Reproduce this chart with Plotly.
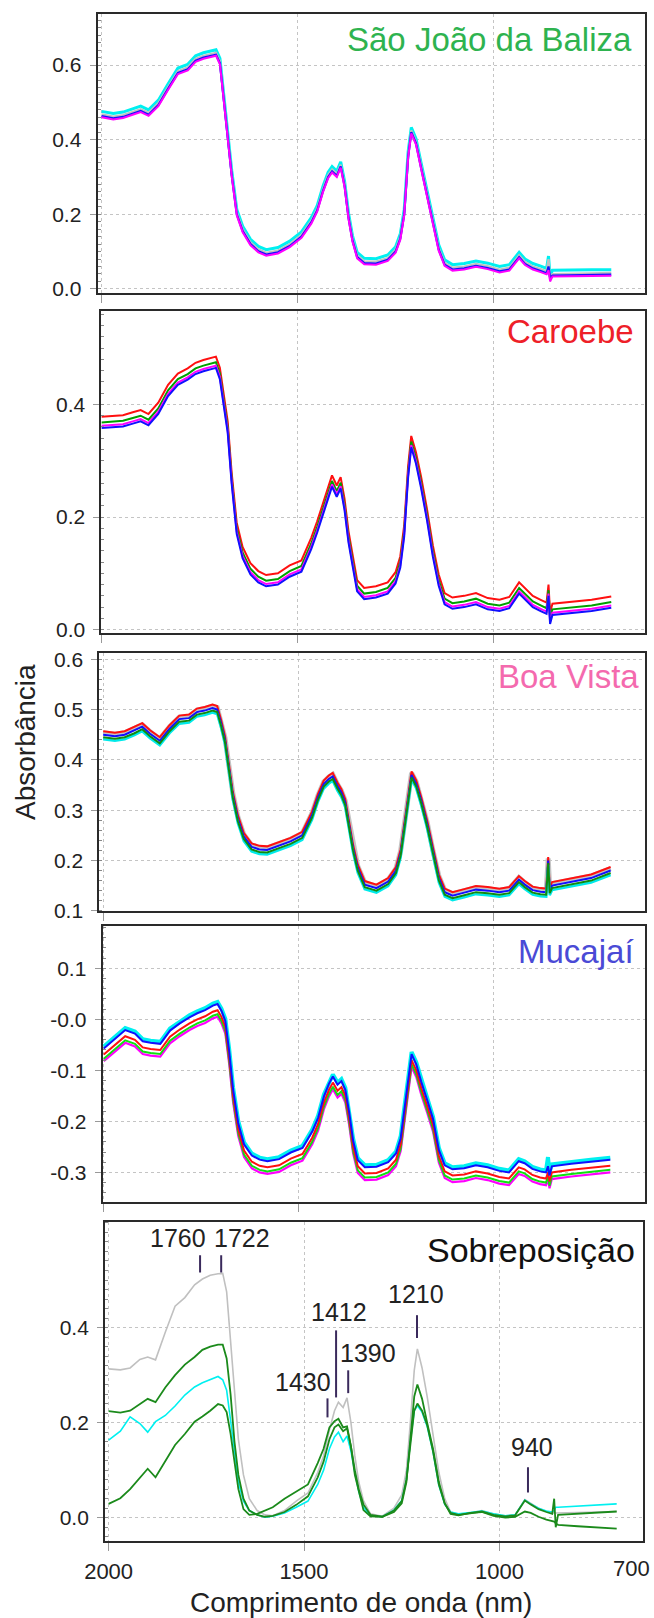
import plotly.graph_objects as go

# ---------------- data ----------------
W = [2000, 1970, 1945, 1920, 1900, 1880, 1855, 1830, 1805, 1780, 1760, 1740, 1720, 1708, 1698, 1688, 1678, 1668, 1655, 1640,
     1620, 1600, 1580, 1550, 1520, 1490, 1465, 1450, 1435, 1422, 1412, 1400, 1390, 1380, 1370, 1360, 1348, 1330, 1300, 1270,
     1250, 1238, 1228, 1218, 1210, 1198, 1185, 1170, 1155, 1140, 1125, 1105, 1075, 1045, 1015, 985, 960, 935, 920, 900,
     880, 865, 860, 856, 850, 800, 750, 700]

# Panel 1 - Sao Joao da Baliza
sjb_cyan = [0.476, 0.470, 0.474, 0.484, 0.490, 0.480, 0.506, 0.550, 0.592, 0.602, 0.625, 0.633, 0.638, 0.641, 0.618, 0.518, 0.418, 0.318, 0.213, 0.168,
            0.133, 0.114, 0.105, 0.111, 0.128, 0.153, 0.191, 0.223, 0.276, 0.313, 0.328, 0.316, 0.341, 0.288, 0.203, 0.143, 0.098, 0.082, 0.081, 0.091,
            0.113, 0.148, 0.213, 0.368, 0.433, 0.403, 0.338, 0.266, 0.188, 0.118, 0.078, 0.065, 0.068, 0.075, 0.069, 0.060, 0.065, 0.098, 0.080, 0.068,
            0.061, 0.055, 0.088, 0.033, 0.050, 0.051, 0.051, 0.051]
sjb_gray = [0.468, 0.462, 0.466, 0.476, 0.482, 0.472, 0.498, 0.542, 0.584, 0.594, 0.617, 0.625, 0.630, 0.633, 0.610, 0.510, 0.410, 0.310, 0.205, 0.160,
            0.125, 0.106, 0.097, 0.103, 0.120, 0.145, 0.183, 0.215, 0.268, 0.305, 0.320, 0.308, 0.333, 0.280, 0.195, 0.135, 0.090, 0.074, 0.073, 0.083,
            0.105, 0.140, 0.205, 0.360, 0.425, 0.395, 0.330, 0.258, 0.180, 0.110, 0.070, 0.057, 0.060, 0.067, 0.061, 0.052, 0.057, 0.090, 0.072, 0.060,
            0.053, 0.047, 0.080, 0.025, 0.040, 0.042, 0.042, 0.043]
sjb_blue = [0.463, 0.457, 0.461, 0.471, 0.477, 0.467, 0.493, 0.537, 0.579, 0.589, 0.612, 0.620, 0.625, 0.628, 0.605, 0.505, 0.405, 0.305, 0.200, 0.155,
            0.120, 0.101, 0.092, 0.098, 0.115, 0.140, 0.178, 0.210, 0.263, 0.300, 0.315, 0.303, 0.328, 0.275, 0.190, 0.130, 0.085, 0.069, 0.068, 0.078,
            0.100, 0.135, 0.200, 0.355, 0.420, 0.390, 0.325, 0.253, 0.175, 0.105, 0.065, 0.052, 0.055, 0.062, 0.056, 0.047, 0.052, 0.085, 0.067, 0.055,
            0.048, 0.042, 0.060, 0.030, 0.036, 0.037, 0.037, 0.038]
sjb_magenta = [0.460, 0.454, 0.458, 0.468, 0.474, 0.464, 0.490, 0.534, 0.576, 0.586, 0.609, 0.617, 0.622, 0.625, 0.602, 0.502, 0.402, 0.302, 0.197, 0.152,
               0.117, 0.098, 0.089, 0.095, 0.112, 0.137, 0.175, 0.207, 0.260, 0.297, 0.312, 0.300, 0.325, 0.272, 0.187, 0.127, 0.082, 0.066, 0.065, 0.075,
               0.097, 0.132, 0.197, 0.352, 0.417, 0.387, 0.322, 0.250, 0.172, 0.102, 0.062, 0.049, 0.052, 0.059, 0.053, 0.044, 0.049, 0.082, 0.064, 0.052,
               0.045, 0.039, 0.050, 0.020, 0.033, 0.034, 0.034, 0.035]

# Panel 2 - Caroebe
car_red = [0.378, 0.380, 0.381, 0.386, 0.390, 0.383, 0.403, 0.435, 0.455, 0.464, 0.474, 0.479, 0.482, 0.485, 0.465, 0.420, 0.370, 0.280, 0.190, 0.147,
           0.118, 0.104, 0.097, 0.100, 0.114, 0.123, 0.163, 0.192, 0.224, 0.255, 0.274, 0.256, 0.271, 0.232, 0.175, 0.135, 0.088, 0.074, 0.077, 0.084,
           0.102, 0.130, 0.185, 0.290, 0.344, 0.315, 0.272, 0.215, 0.150, 0.098, 0.065, 0.057, 0.060, 0.065, 0.056, 0.053, 0.058, 0.084, 0.073, 0.060,
           0.053, 0.048, 0.080, 0.030, 0.046, 0.050, 0.053, 0.059]
car_green = [0.368, 0.370, 0.371, 0.376, 0.380, 0.373, 0.393, 0.425, 0.445, 0.454, 0.464, 0.469, 0.472, 0.475, 0.455, 0.410, 0.360, 0.270, 0.180, 0.137,
             0.108, 0.094, 0.087, 0.090, 0.104, 0.113, 0.153, 0.182, 0.214, 0.245, 0.264, 0.246, 0.261, 0.222, 0.165, 0.125, 0.078, 0.064, 0.067, 0.074,
             0.092, 0.120, 0.175, 0.280, 0.334, 0.305, 0.262, 0.205, 0.140, 0.088, 0.055, 0.047, 0.050, 0.055, 0.046, 0.043, 0.048, 0.074, 0.063, 0.050,
             0.043, 0.038, 0.070, 0.020, 0.036, 0.040, 0.043, 0.049]
car_magenta = [0.362, 0.364, 0.365, 0.370, 0.374, 0.367, 0.387, 0.419, 0.439, 0.448, 0.458, 0.463, 0.466, 0.469, 0.449, 0.404, 0.354, 0.264, 0.174, 0.131,
               0.102, 0.088, 0.081, 0.084, 0.098, 0.107, 0.147, 0.176, 0.208, 0.239, 0.258, 0.240, 0.255, 0.216, 0.159, 0.119, 0.072, 0.058, 0.061, 0.068,
               0.086, 0.114, 0.169, 0.274, 0.328, 0.299, 0.256, 0.199, 0.134, 0.082, 0.049, 0.041, 0.044, 0.049, 0.040, 0.037, 0.042, 0.068, 0.057, 0.044,
               0.037, 0.032, 0.064, 0.014, 0.030, 0.034, 0.037, 0.043]
car_blue = [0.358, 0.360, 0.361, 0.366, 0.370, 0.363, 0.383, 0.415, 0.435, 0.444, 0.454, 0.459, 0.462, 0.465, 0.445, 0.400, 0.350, 0.260, 0.170, 0.127,
            0.098, 0.084, 0.077, 0.080, 0.094, 0.103, 0.143, 0.172, 0.204, 0.235, 0.254, 0.236, 0.251, 0.212, 0.155, 0.115, 0.068, 0.054, 0.057, 0.064,
            0.082, 0.110, 0.165, 0.270, 0.324, 0.295, 0.252, 0.195, 0.130, 0.078, 0.045, 0.037, 0.040, 0.045, 0.036, 0.033, 0.038, 0.064, 0.053, 0.040,
            0.033, 0.028, 0.060, 0.010, 0.026, 0.030, 0.033, 0.039]

# Panel 3 - Boa Vista
bv_gray = [0.454, 0.451, 0.454, 0.462, 0.470, 0.456, 0.442, 0.466, 0.485, 0.487, 0.499, 0.502, 0.507, 0.504, 0.477, 0.444, 0.389, 0.334, 0.287, 0.252,
           0.231, 0.226, 0.225, 0.234, 0.242, 0.254, 0.294, 0.329, 0.356, 0.366, 0.371, 0.352, 0.339, 0.319, 0.274, 0.229, 0.189, 0.156, 0.149, 0.162,
           0.184, 0.219, 0.274, 0.334, 0.374, 0.356, 0.322, 0.276, 0.219, 0.169, 0.141, 0.134, 0.140, 0.146, 0.144, 0.141, 0.144, 0.166, 0.156, 0.145,
           0.142, 0.141, 0.204, 0.144, 0.154, 0.161, 0.169, 0.184]
bv_red = [0.457, 0.454, 0.457, 0.465, 0.473, 0.459, 0.445, 0.469, 0.488, 0.490, 0.502, 0.505, 0.510, 0.507, 0.480, 0.447, 0.392, 0.337, 0.290, 0.255,
          0.234, 0.229, 0.228, 0.237, 0.245, 0.257, 0.297, 0.332, 0.359, 0.369, 0.374, 0.355, 0.342, 0.322, 0.277, 0.232, 0.192, 0.159, 0.152, 0.165,
          0.187, 0.222, 0.277, 0.337, 0.377, 0.359, 0.325, 0.279, 0.222, 0.172, 0.144, 0.137, 0.143, 0.149, 0.147, 0.144, 0.147, 0.169, 0.159, 0.148,
          0.145, 0.144, 0.207, 0.147, 0.157, 0.164, 0.172, 0.187]
bv_blue = [0.450, 0.447, 0.450, 0.458, 0.466, 0.452, 0.438, 0.462, 0.481, 0.483, 0.495, 0.498, 0.503, 0.500, 0.473, 0.440, 0.385, 0.330, 0.283, 0.248,
           0.227, 0.222, 0.221, 0.230, 0.238, 0.250, 0.290, 0.325, 0.352, 0.362, 0.367, 0.348, 0.335, 0.315, 0.270, 0.225, 0.185, 0.152, 0.145, 0.158,
           0.180, 0.215, 0.270, 0.330, 0.370, 0.352, 0.318, 0.272, 0.215, 0.165, 0.137, 0.130, 0.136, 0.142, 0.140, 0.137, 0.140, 0.162, 0.152, 0.141,
           0.138, 0.137, 0.200, 0.140, 0.150, 0.157, 0.165, 0.180]
bv_cyan = [0.441, 0.438, 0.441, 0.449, 0.457, 0.443, 0.429, 0.453, 0.472, 0.474, 0.486, 0.489, 0.494, 0.491, 0.464, 0.431, 0.376, 0.321, 0.274, 0.239,
           0.218, 0.213, 0.212, 0.221, 0.229, 0.241, 0.281, 0.316, 0.343, 0.353, 0.358, 0.339, 0.326, 0.306, 0.261, 0.216, 0.176, 0.143, 0.136, 0.149,
           0.171, 0.206, 0.261, 0.321, 0.361, 0.343, 0.309, 0.263, 0.206, 0.156, 0.128, 0.121, 0.127, 0.133, 0.131, 0.128, 0.131, 0.153, 0.143, 0.132,
           0.129, 0.128, 0.191, 0.131, 0.141, 0.148, 0.156, 0.171]
bv_green = [0.445, 0.442, 0.445, 0.453, 0.461, 0.447, 0.433, 0.457, 0.476, 0.478, 0.490, 0.493, 0.498, 0.495, 0.468, 0.435, 0.380, 0.325, 0.278, 0.243,
            0.222, 0.217, 0.216, 0.225, 0.233, 0.245, 0.285, 0.320, 0.347, 0.357, 0.362, 0.343, 0.330, 0.310, 0.265, 0.220, 0.180, 0.147, 0.140, 0.153,
            0.175, 0.210, 0.265, 0.325, 0.365, 0.347, 0.313, 0.267, 0.210, 0.160, 0.132, 0.125, 0.131, 0.137, 0.135, 0.132, 0.135, 0.157, 0.147, 0.136,
            0.133, 0.132, 0.195, 0.135, 0.145, 0.152, 0.160, 0.175]

# Panel 4 - Mucajai
muc_cyan = [-0.053, -0.034, -0.017, -0.024, -0.039, -0.042, -0.044, -0.018, -0.004, 0.008, 0.016, 0.022, 0.031, 0.034, 0.021, 0.001, -0.059, -0.134, -0.199, -0.241,
            -0.263, -0.271, -0.274, -0.270, -0.257, -0.248, -0.216, -0.189, -0.147, -0.122, -0.108, -0.124, -0.117, -0.134, -0.179, -0.234, -0.272, -0.286, -0.285, -0.276,
            -0.259, -0.229, -0.169, -0.104, -0.064, -0.084, -0.119, -0.154, -0.191, -0.252, -0.282, -0.290, -0.288, -0.282, -0.286, -0.293, -0.296, -0.274, -0.278, -0.289,
            -0.294, -0.296, -0.270, -0.300, -0.284, -0.279, -0.275, -0.271]
muc_blue = [-0.057, -0.038, -0.021, -0.028, -0.043, -0.046, -0.048, -0.022, -0.008, 0.004, 0.012, 0.018, 0.027, 0.030, 0.017, -0.003, -0.063, -0.138, -0.203, -0.245,
            -0.267, -0.275, -0.278, -0.274, -0.261, -0.252, -0.220, -0.193, -0.151, -0.126, -0.112, -0.128, -0.121, -0.138, -0.183, -0.238, -0.276, -0.290, -0.289, -0.280,
            -0.263, -0.233, -0.173, -0.108, -0.068, -0.088, -0.123, -0.158, -0.195, -0.256, -0.286, -0.294, -0.292, -0.286, -0.290, -0.297, -0.300, -0.278, -0.282, -0.293,
            -0.298, -0.300, -0.288, -0.306, -0.288, -0.283, -0.279, -0.275]
muc_red = [-0.069, -0.050, -0.033, -0.040, -0.055, -0.058, -0.060, -0.034, -0.020, -0.008, 0.000, 0.006, 0.015, 0.018, 0.005, -0.015, -0.075, -0.150, -0.215, -0.257,
           -0.279, -0.287, -0.290, -0.286, -0.273, -0.264, -0.232, -0.205, -0.163, -0.138, -0.124, -0.140, -0.133, -0.150, -0.195, -0.250, -0.288, -0.302, -0.301, -0.292,
           -0.275, -0.245, -0.185, -0.120, -0.080, -0.100, -0.135, -0.170, -0.207, -0.268, -0.298, -0.306, -0.304, -0.298, -0.302, -0.309, -0.312, -0.290, -0.294, -0.305,
           -0.310, -0.312, -0.300, -0.318, -0.300, -0.295, -0.291, -0.287]
muc_green = [-0.077, -0.058, -0.041, -0.048, -0.063, -0.066, -0.068, -0.042, -0.028, -0.016, -0.008, -0.002, 0.007, 0.010, -0.003, -0.023, -0.083, -0.158, -0.223, -0.265,
             -0.287, -0.295, -0.298, -0.294, -0.281, -0.272, -0.240, -0.213, -0.171, -0.146, -0.132, -0.148, -0.141, -0.158, -0.203, -0.258, -0.296, -0.310, -0.309, -0.300,
             -0.283, -0.253, -0.193, -0.128, -0.088, -0.108, -0.143, -0.178, -0.215, -0.276, -0.306, -0.314, -0.312, -0.306, -0.310, -0.317, -0.320, -0.298, -0.302, -0.313,
             -0.318, -0.320, -0.308, -0.326, -0.308, -0.303, -0.299, -0.295]
muc_magenta = [-0.082, -0.063, -0.046, -0.053, -0.068, -0.071, -0.073, -0.047, -0.033, -0.021, -0.013, -0.007, 0.002, 0.005, -0.008, -0.028, -0.088, -0.163, -0.228, -0.270,
               -0.292, -0.300, -0.303, -0.299, -0.286, -0.277, -0.245, -0.218, -0.176, -0.151, -0.137, -0.153, -0.146, -0.163, -0.208, -0.263, -0.301, -0.315, -0.314, -0.305,
               -0.288, -0.258, -0.198, -0.133, -0.093, -0.113, -0.148, -0.183, -0.220, -0.281, -0.311, -0.319, -0.317, -0.311, -0.315, -0.322, -0.325, -0.303, -0.307, -0.318,
               -0.323, -0.325, -0.313, -0.331, -0.313, -0.308, -0.304, -0.300]

# Panel 5 - Sobreposicao
sob_gray = [0.313, 0.311, 0.315, 0.333, 0.338, 0.332, 0.390, 0.445, 0.463, 0.490, 0.502, 0.510, 0.513, 0.514, 0.475, 0.370, 0.250, 0.165, 0.090, 0.040,
            0.015, 0.006, 0.004, 0.015, 0.035, 0.052, 0.095, 0.130, 0.185, 0.225, 0.243, 0.232, 0.252, 0.200, 0.130, 0.075, 0.036, 0.008, 0.003, 0.020,
            0.048, 0.100, 0.200, 0.310, 0.355, 0.315, 0.255, 0.178, 0.095, 0.040, 0.012, 0.007, 0.010, 0.015, 0.008, 0.004, 0.006, 0.038, 0.030, 0.020,
            0.013, 0.010, 0.010, 0.010, 0.010, 0.011, 0.012, 0.013]
sob_cyan = [0.163, 0.182, 0.212, 0.198, 0.180, 0.202, 0.215, 0.235, 0.258, 0.275, 0.284, 0.290, 0.297, 0.290, 0.268, 0.205, 0.140, 0.075, 0.035, 0.015,
            0.006, 0.001, 0.003, 0.010, 0.022, 0.035, 0.070, 0.100, 0.145, 0.170, 0.180, 0.160, 0.172, 0.140, 0.095, 0.055, 0.022, 0.004, 0.002, 0.016,
            0.036, 0.080, 0.160, 0.225, 0.236, 0.222, 0.192, 0.138, 0.068, 0.028, 0.012, 0.008, 0.011, 0.014, 0.008, 0.004, 0.006, 0.037, 0.029, 0.020,
            0.014, 0.012, 0.015, 0.022, 0.022, 0.024, 0.026, 0.029]
sob_green1 = [0.224, 0.221, 0.225, 0.238, 0.250, 0.243, 0.274, 0.300, 0.322, 0.338, 0.353, 0.360, 0.364, 0.364, 0.335, 0.260, 0.160, 0.090, 0.040, 0.015,
              0.006, 0.002, 0.004, 0.012, 0.027, 0.045, 0.085, 0.118, 0.165, 0.190, 0.196, 0.182, 0.188, 0.150, 0.100, 0.060, 0.028, 0.006, 0.002, 0.015,
              0.035, 0.080, 0.160, 0.225, 0.240, 0.225, 0.195, 0.140, 0.070, 0.030, 0.010, 0.006, 0.009, 0.013, 0.006, 0.003, 0.005, 0.036, 0.028, 0.018,
              0.012, 0.008, 0.040, -0.020, 0.006, 0.008, 0.011, 0.013]
sob_green2 = [0.029, 0.041, 0.060, 0.083, 0.103, 0.085, 0.120, 0.153, 0.176, 0.202, 0.213, 0.225, 0.239, 0.236, 0.222, 0.177, 0.118, 0.060, 0.018, 0.006,
              0.008, 0.015, 0.022, 0.040, 0.055, 0.070, 0.115, 0.145, 0.190, 0.203, 0.208, 0.190, 0.192, 0.150, 0.090, 0.055, 0.016, 0.003, 0.002, 0.012,
              0.030, 0.075, 0.170, 0.255, 0.280, 0.250, 0.200, 0.145, 0.075, 0.030, 0.008, 0.005, 0.010, 0.012, 0.004, 0.000, 0.002, 0.013, 0.010, 0.002,
              -0.004, -0.008, -0.008, -0.012, -0.015, -0.018, -0.021, -0.023]

panel_titles = ["São João da Baliza", "Caroebe", "Boa Vista", "Mucajaí", "Sobreposição"]
panel_title_colors = ["#2eb34f", "#ee2028", "#f46aae", "#4a4ad6", "#111111"]

peak_labels = ["1760", "1722", "1412", "1390", "1430", "1210", "940"]
x_ticks = [2000, 1500, 1000]
x_tick_text = ["2000", "1500", "1000"]

# ---------------- layout helpers ----------------
FW, FH = 654, 1618
def xdom(a, b):
    return [a / FW, b / FW]
def ydom(top, bot):
    return [1 - bot / FH, 1 - top / FH]

panels = [
    dict(xpx=(97.6, 644.6), ypx=(14, 293), xr=[2010, 615], yr=[-0.011, 0.737],
         tv=[0.0, 0.2, 0.4, 0.6], tt=["0.0", "0.2", "0.4", "0.6"],
         series=[(sjb_cyan, "#00f0f0", 3), (sjb_gray, "#c0c0c0", 2.2), (sjb_blue, "#1010ff", 2.2), (sjb_magenta, "#ff00ff", 2)]),
    dict(xpx=(101.4, 644.6), ypx=(311, 633), xr=[2000, 615], yr=[-0.006, 0.566],
         tv=[0.0, 0.2, 0.4], tt=["0.0", "0.2", "0.4"],
         series=[(car_red, "#ff1010", 2), (car_green, "#00a000", 2), (car_magenta, "#ff00ff", 2), (car_blue, "#1010ff", 2)]),
    dict(xpx=(99.3, 644.6), ypx=(653, 911), xr=[2010, 613], yr=[0.0995, 0.6125],
         tv=[0.1, 0.2, 0.3, 0.4, 0.5, 0.6], tt=["0.1", "0.2", "0.3", "0.4", "0.5", "0.6"],
         series=[(bv_gray, "#c4c4c4", 5), (bv_red, "#ff1010", 2), (bv_blue, "#1010ff", 2), (bv_cyan, "#00eaea", 2.5), (bv_green, "#108a10", 2)]),
    dict(xpx=(102.6, 644.6), ypx=(926, 1202), xr=[2003, 612], yr=[-0.358, 0.183],
         tv=[0.1, 0.0, -0.1, -0.2, -0.3], tt=["0.1", "-0.0", "-0.1", "-0.2", "-0.3"],
         series=[(muc_cyan, "#00f0f0", 4), (muc_magenta, "#ff00ff", 2.2), (muc_green, "#10e010", 2), (muc_red, "#ff1010", 2), (muc_blue, "#1010ff", 2)]),
    dict(xpx=(105.1, 642.5), ypx=(1222, 1541), xr=[2009, 634], yr=[-0.049, 0.622],
         tv=[0.0, 0.2, 0.4], tt=["0.0", "0.2", "0.4"],
         series=[(sob_gray, "#c0c0c0", 1.6), (sob_cyan, "#00f0f0", 1.6), (sob_green1, "#1b8a1b", 1.8), (sob_green2, "#1b8a1b", 1.8)]),
]

FONT = "Liberation Sans, Arial, sans-serif"
fig = go.Figure()
layout = dict(width=FW, height=FH, margin=dict(l=0, r=0, t=0, b=0),
              paper_bgcolor="white", plot_bgcolor="white", showlegend=False,
              font=dict(family=FONT, color="#222"))

for i, p in enumerate(panels, start=1):
    xa = "xaxis" if i == 1 else f"xaxis{i}"
    ya = "yaxis" if i == 1 else f"yaxis{i}"
    xref = "x" if i == 1 else f"x{i}"
    yref = "y" if i == 1 else f"y{i}"
    last = (i == len(panels))
    layout[xa] = dict(domain=xdom(*p["xpx"]), range=p["xr"], anchor=yref, automargin=False,
                      tickmode="array", tickvals=x_ticks, ticktext=x_tick_text,
                      showticklabels=last, ticks="outside", ticklen=8, tickcolor="#999",
                      ticklabelstandoff=2,
                      tickfont=dict(size=22, color="#222", family=FONT),
                      showgrid=True, gridcolor="#c4c4c4", griddash="dot", gridwidth=1,
                      showline=True, linecolor="#2a2a2a", linewidth=2, mirror=True, zeroline=False)
    layout[ya] = dict(domain=ydom(*p["ypx"]), range=p["yr"], anchor=xref, automargin=False,
                      tickmode="array", tickvals=p["tv"], ticktext=p["tt"],
                      ticks="outside", ticklen=6, tickcolor="#999", ticklabelstandoff=4,
                      tickfont=dict(size=21, color="#222", family=FONT),
                      showgrid=True, gridcolor="#c4c4c4", griddash="dot", gridwidth=1,
                      minor=dict(ticks="inside", ticklen=3, tickcolor="#888", tickmode="linear", tick0=0, dtick=0.02, showgrid=False),
                      showline=True, linecolor="#2a2a2a", linewidth=2, mirror=True, zeroline=False)
    for vals, col, wdt in p["series"]:
        fig.add_trace(go.Scatter(x=W, y=vals, mode="lines", line=dict(color=col, width=wdt),
                                 xaxis=xref, yaxis=yref, hoverinfo="skip"))

annotations = []
# panel titles (right aligned)
title_pos = [(634, 40), (636, 332), (641, 677), (636, 951), (637, 1250)]
title_sizes = [33, 33, 33, 33, 34]
for t, c, (px, py), s in zip(panel_titles, panel_title_colors, title_pos, title_sizes):
    annotations.append(dict(text=t, x=px / FW, y=1 - py / FH, xref="paper", yref="paper",
                            xanchor="right", yanchor="middle", showarrow=False,
                            font=dict(size=s, color=c, family=FONT)))

# peak labels in the overlay panel
label_xy = [(1822, 0.588), (1658, 0.588), (1410, 0.432), (1336, 0.346), (1502, 0.285), (1213, 0.470), (916, 0.148)]
mark_x = [1766, 1712, 1418, 1387, 1440, 1211, 927]
mark_y = [(0.516, 0.552), (0.516, 0.552), (0.253, 0.394), (0.262, 0.310), (0.211, 0.251), (0.378, 0.426), (0.053, 0.106)]
shapes = []
for lab, (lx, ly), mx, (y0, y1) in zip(peak_labels, label_xy, mark_x, mark_y):
    annotations.append(dict(text=lab, x=lx, y=ly, xref="x5", yref="y5", showarrow=False,
                            xanchor="center", yanchor="middle", font=dict(size=25, color="#222", family=FONT)))
    shapes.append(dict(type="line", xref="x5", yref="y5", x0=mx, x1=mx, y0=y0, y1=y1,
                       line=dict(color="#3a2a5c", width=2)))

# last x tick label at right edge and axis titles
annotations.append(dict(text="700", x=652 / FW, y=1 - 1568 / FH, xref="paper", yref="paper", showarrow=False,
                        xanchor="right", yanchor="middle", font=dict(size=22, color="#222", family=FONT)))
annotations.append(dict(text="Comprimento de onda (nm)", x=361 / FW, y=1 - 1602 / FH, xref="paper", yref="paper",
                        showarrow=False, xanchor="center", yanchor="middle", font=dict(size=28, color="#222", family=FONT)))
annotations.append(dict(text="Absorbância", x=25 / FW, y=1 - 742 / FH, xref="paper", yref="paper", textangle=-90,
                        showarrow=False, xanchor="center", yanchor="middle", font=dict(size=28, color="#222", family=FONT)))

layout["annotations"] = annotations
layout["shapes"] = shapes
fig.update_layout(**layout)
fig.write_html("out.html", config={"displayModeBar": False, "staticPlot": True},
               post_script="document.body.style.margin='0px';document.body.style.overflow='hidden';")
